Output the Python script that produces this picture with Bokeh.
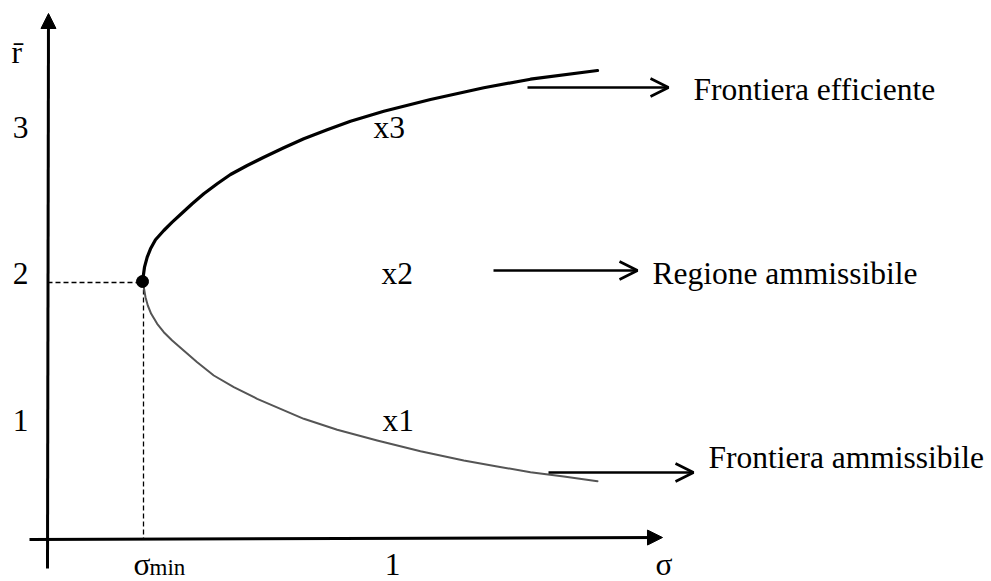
from bokeh.plotting import figure
from bokeh.models import Range1d, Arrow, NormalHead, OpenHead
from bokeh.core.properties import value
from bokeh.embed import file_html
from bokeh.resources import INLINE

# Canvas coordinates: x to the right, y downward (screen-like units)
W, H = 991, 581

# Efficient frontier (upper branch, from the minimum-variance point upward)
efficient_sigma = [142, 144, 146.7, 150, 155, 163.3, 171.7, 180, 191.7, 203.3, 216.7,
                   230, 246.7, 263.3, 283.3, 303.3, 326.7, 350, 383.3, 430, 483.3,
                   530, 597]
efficient_r = [281, 266.7, 256.7, 248.3, 239.3, 230, 221.7, 214, 203.3, 193.3, 183.3,
               174, 165, 156.7, 147.3, 138.3, 129.3, 120.7, 110.7, 99, 87.3,
               78.7, 70]

# Admissible frontier (lower branch)
admissible_sigma = [142, 143.3, 145, 147.3, 150.7, 156.7, 163.3, 171.7, 180, 196.7,
                    213.3, 233.3, 256.7, 280, 303.3, 336.7, 376.7, 420, 463.3, 496.7,
                    530, 563.3, 597]
admissible_r = [281, 286.7, 296.7, 305, 313.3, 323.3, 331.7, 340, 347.3, 361.7,
                375, 386.7, 398.3, 408.3, 418.3, 429.3, 440, 450.7, 460, 466,
                471.7, 476, 480.7]

# Minimum-variance portfolio
min_point_sigma = [142]
min_point_r = [281]

# Axis tick labels
r_tick_labels = ["3", "2", "1"]
r_tick_pos = [127, 273, 420]
sigma_tick_labels = ["1"]
sigma_tick_pos = [392]

# Portfolio labels
portfolio_labels = ["x3", "x2", "x1"]
portfolio_sigma = [373, 381, 382]
portfolio_r = [127, 273, 420]

# Callout labels and their arrows
callout_labels = ["Frontiera efficiente", "Regione ammissibile", "Frontiera ammissibile"]
callout_x = [693, 652, 708]
callout_y = [89, 273, 457]
callout_arrow_start = [527, 493, 548]
callout_arrow_end = [668, 637, 693]
callout_arrow_y = [87, 270, 472]

FONT = value("Liberation Serif")

p = figure(width=W, height=H, x_range=Range1d(0, W), y_range=Range1d(H, 0),
           output_backend="svg", toolbar_location=None, min_border=0,
           x_axis_location=None, y_axis_location=None)
p.grid.visible = False
p.outline_line_color = None
p.background_fill_color = "white"
p.border_fill_color = "white"

# Hand-drawn axes with filled arrowheads
p.add_layout(Arrow(x_start=47, y_start=568, x_end=48, y_end=13, line_width=3,
                   line_color="black",
                   end=NormalHead(size=15, fill_color="black", line_color="black", line_width=1)))
p.add_layout(Arrow(x_start=29, y_start=539, x_end=662, y_end=537, line_width=3,
                   line_color="black",
                   end=NormalHead(size=15, fill_color="black", line_color="black", line_width=1)))

# Dashed guides to the minimum-variance point
p.line([47, min_point_sigma[0]], [min_point_r[0] + 1, min_point_r[0] + 1],
       line_color="black", line_width=1.3, line_dash="5 3")
p.line([min_point_sigma[0] + 1, min_point_sigma[0] + 1], [min_point_r[0], 539],
       line_color="black", line_width=1.3, line_dash="5 3")

# Frontier branches
p.line(admissible_sigma, admissible_r, line_color="#555555", line_width=2,
       line_join="round", line_cap="round")
p.line(efficient_sigma, efficient_r, line_color="black", line_width=3.2,
       line_join="round", line_cap="round")
p.scatter(min_point_sigma, min_point_r, size=12, color="black")

# Callout arrows
for xs, xe, y in zip(callout_arrow_start, callout_arrow_end, callout_arrow_y):
    p.add_layout(Arrow(x_start=xs, y_start=y, x_end=xe, y_end=y, line_width=2.6,
                       line_color="black",
                       end=OpenHead(size=18, line_color="black", line_width=2.6)))

text_kw = dict(text_font=FONT, text_font_size="31.5px", text_color="black",
               text_baseline="alphabetic")

# Vertical axis labels
p.text(x=[20] * len(r_tick_labels), y=r_tick_pos, text=r_tick_labels,
       text_align="center", **text_kw)
p.text(x=[11], y=[52], text=["r\u0304"], text_align="left", **text_kw)

# Horizontal axis labels
p.text(x=sigma_tick_pos, y=[564], text=sigma_tick_labels, text_align="center", **text_kw)
p.text(x=[133], y=[564], text=["\u03c3"], text_align="left", **text_kw)
p.text(x=[149], y=[567], text=["min"], text_align="left", text_font=FONT,
       text_font_size="23px", text_color="black", text_baseline="alphabetic")
p.text(x=[655], y=[564], text=["\u03c3"], text_align="left", **text_kw)

# Portfolio and callout labels
p.text(x=portfolio_sigma, y=portfolio_r, text=portfolio_labels, text_align="left", **text_kw)
p.text(x=callout_x, y=callout_y, text=callout_labels, text_align="left", **text_kw)

open("out.html", "w").write(file_html(p, INLINE))
